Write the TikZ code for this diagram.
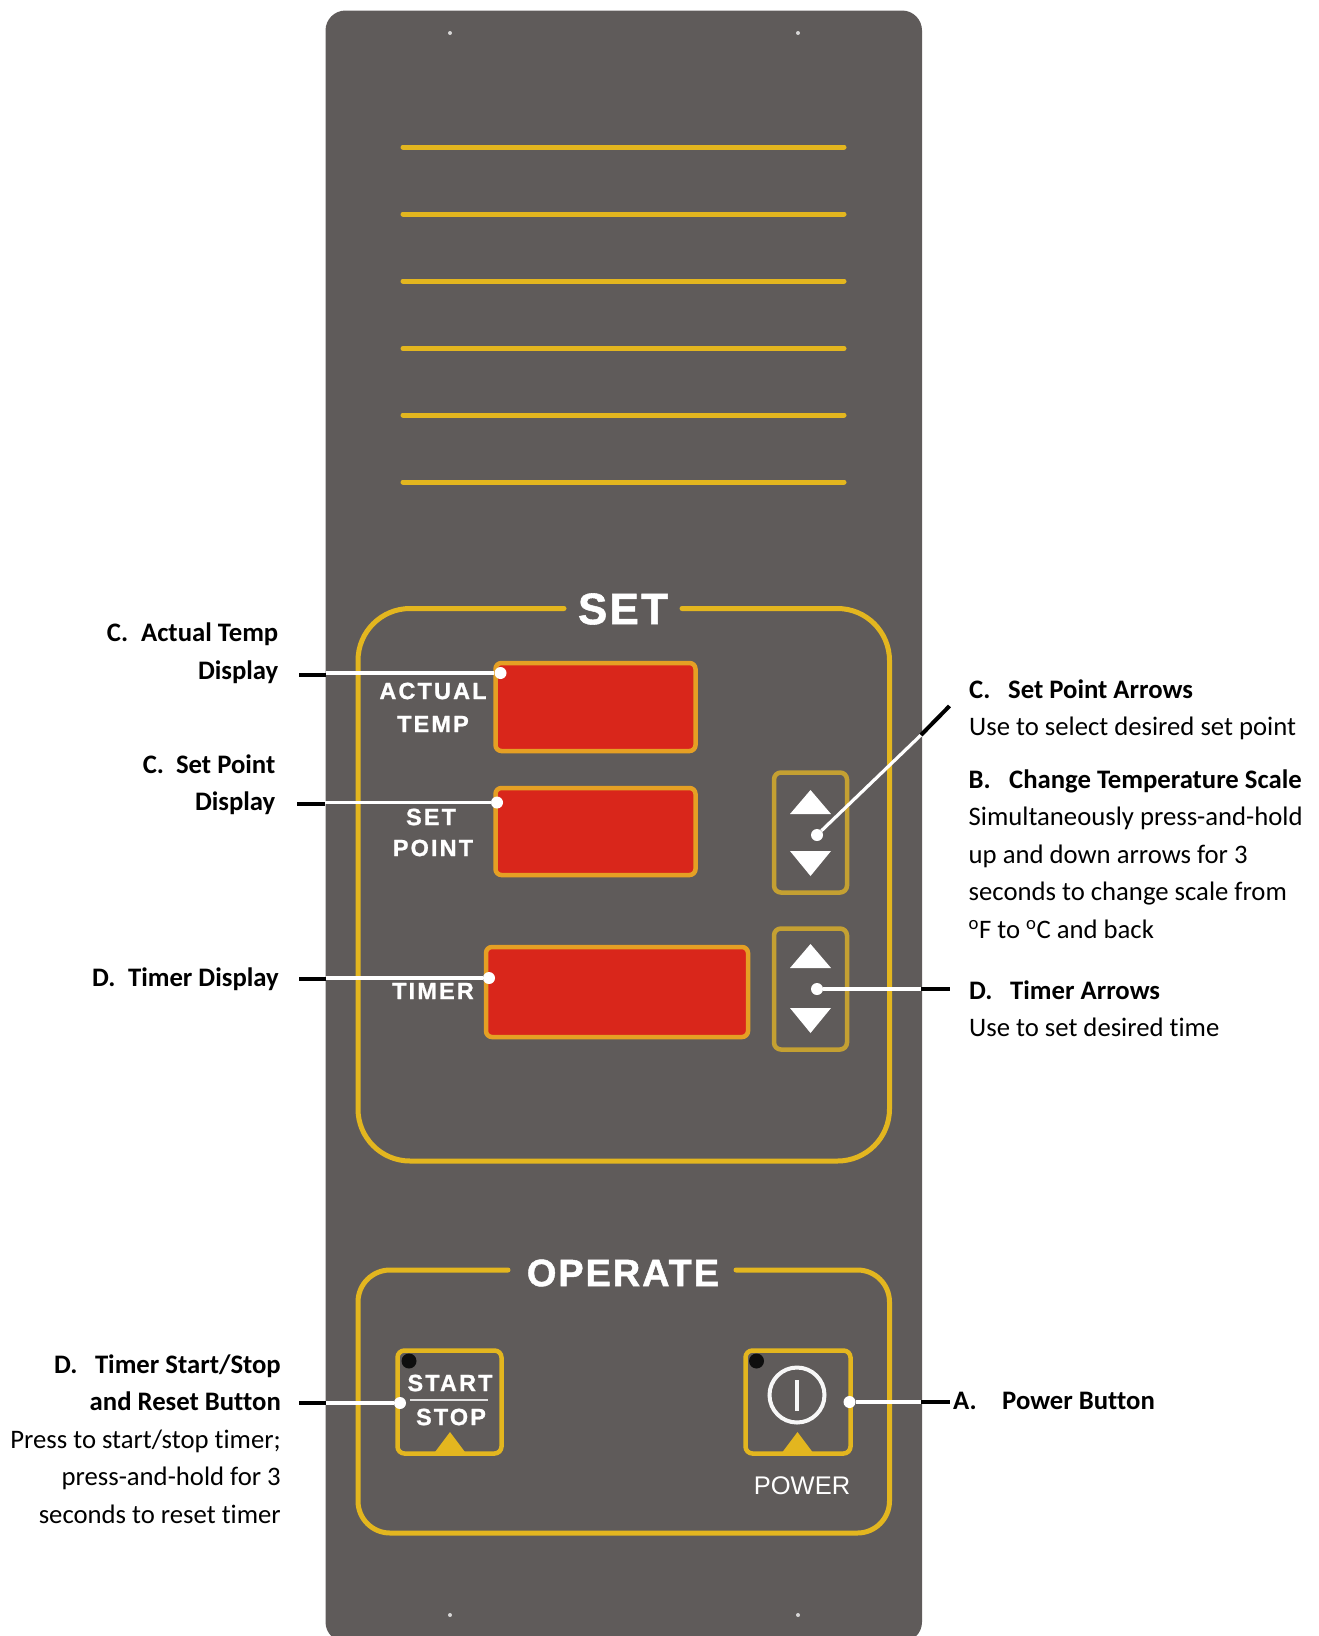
\documentclass[tikz,border=0pt]{standalone}
\usepackage{fontspec}
\setmainfont[Ligatures=NoCommon]{Carlito}
\newfontfamily\platefont[LetterSpace=9,BoldFeatures={FakeBold=0.9}]{Liberation Sans}
\newfontfamily\plainfont[BoldFeatures={FakeBold=1.2,LetterSpace=5}]{Liberation Sans}
\definecolor{plate}{HTML}{5F5B5A}
\definecolor{trim}{HTML}{E3B61F}
\definecolor{trimdark}{HTML}{C4A032}
\definecolor{lcd}{HTML}{D9261B}
\definecolor{lcdedge}{HTML}{E5A024}
\newcommand{\itemlab}[2]{\makebox[#1pt][l]{#2}}
\tikzset{
  frameline/.style={trim,line width=5pt,line cap=round},
  lcdbox/.style={draw=lcdedge,fill=lcd,line width=4.5pt,rounded corners=6pt,inner sep=0pt},
  keybox/.style={draw=trimdark,line width=4.5pt,rounded corners=7pt,inner sep=0pt},
  platetext/.style={white,font=\platefont\fontsize{23.5}{25}\selectfont\bfseries,inner sep=0pt},
  headtext/.style={white,font=\plainfont\bfseries,inner sep=0pt},
  dotnode/.style={circle,fill=white,minimum size=12pt,inner sep=0pt},
  leadwhite/.style={white,line width=3.2pt},
  leadblack/.style={black,line width=4pt},
  noteleft/.style={font=\fontsize{26.7}{37.4}\selectfont,align=right,anchor=north east,inner sep=0pt},
  noteright/.style={font=\fontsize{26.7}{37.4}\selectfont,align=left,anchor=north west,inner sep=0pt},
}
\begin{document}
\begin{tikzpicture}[x=1pt,y=-1pt]
\useasboundingbox (0,0) rectangle (1319,1636);
\clip (0,0) rectangle (1319,1636);
\fill[plate,rounded corners=20pt] (325.5,10.5) rectangle (922,1642);
% screws
\foreach \sx in {450,798}
  \foreach \sy in {33,1615}
    \fill[white!75!plate] (\sx,\sy) circle (2pt);
% vent lines
\foreach \vy in {147,214,281,348.5,415,482}
  \draw[trim,line width=5pt,line cap=round] (403,\vy)--(844,\vy);
% set frame
\draw[frameline,rounded corners=52pt] (564,608.5)--(358,608.5)--(358,1161)--(889.5,1161)--(889.5,608.5)--(682,608.5);
\node[headtext,font=\plainfont\bfseries\fontsize{44}{48}\selectfont] (sethead) at (623,609) {SET};
% displays
\node[lcdbox,minimum width=200pt,minimum height=88pt] (actdisp) at (595.5,707) {};
\node[lcdbox,minimum width=200pt,minimum height=87pt] (setdisp) at (595.5,831.5) {};
\node[lcdbox,minimum width=262pt,minimum height=90pt] (timedisp) at (617,992) {};
\node[platetext] (actlab) at (433,691) {ACTUAL};
\node[platetext] (templab) at (433,724) {TEMP};
\node[platetext] (setlab) at (431,817) {SET};
\node[platetext] (pointlab) at (433,848) {POINT};
\node[platetext] (timelab) at (433,991) {TIMER};
% arrow keys
\node[keybox,minimum width=73pt,minimum height=120pt] (setkeys) at (810.5,832.5) {};
\node[keybox,minimum width=73pt,minimum height=121pt] (timekeys) at (810.5,989) {};
\foreach \ty in {814,968}
  \fill[white] (790,\ty)--(831,\ty)--(810.5,\ty-24)--cycle;
\foreach \ty in {851,1008}
  \fill[white] (790,\ty)--(831,\ty)--(810.5,\ty+25)--cycle;
% operate frame
\draw[frameline,rounded corners=32pt] (508,1270)--(358,1270)--(358,1533)--(889.5,1533)--(889.5,1270)--(736,1270);
\node[headtext,font=\plainfont\bfseries\fontsize{38}{42}\selectfont] (ophead) at (623,1273) {OPERATE};
\node[keybox,draw=trim,minimum width=104pt,minimum height=103pt] (startkey) at (449.5,1402) {};
\node[keybox,draw=trim,minimum width=105pt,minimum height=103pt] (powerkey) at (798,1402) {};
\foreach \kx in {450,797.5}
  \fill[trim] (\kx-16.5,1454)--(\kx+16.5,1454)--(\kx,1432)--cycle;
\fill[black!85!plate] (409,1361) circle (7.5pt);
\fill[black!85!plate] (756.5,1361) circle (7.5pt);
\node[platetext] (startlab) at (450,1383) {START};
\draw[white!80!plate,line width=2pt] (410,1399.5)--(488,1399.5);
\node[platetext] (stoplab) at (451,1417) {STOP};
\draw[white!95!plate,line width=4pt] (797,1395) circle (27.5pt);
\draw[white!95!plate,line width=4pt] (797,1380)--(797,1411);
\node[white,font=\plainfont\fontsize{25.5}{27}\selectfont,inner sep=0pt] (powerlab) at (802,1486) {POWER};
% callouts
\node[noteleft] (actnote) at (278.5,623) {\textbf{C.\hspace{13pt}Actual Temp}\\\textbf{Display}};
\node[noteleft] (setnote) at (275.5,754.5) {\textbf{C.\hspace{12pt}Set Point}\\\textbf{Display}};
\node[noteleft] (timenote) at (279,967.5) {\textbf{D.\hspace{12.5pt}Timer Display}};
\node[noteleft] (startnote) at (281,1354.5) {\textbf{\itemlab{41}{D.}Timer Start/Stop}\\\textbf{and Reset Button}\\Press to start/stop timer;\\press-and-hold for 3\\seconds to reset timer};
\node[noteright] (arrownote) at (969,679.5) {\textbf{\itemlab{39}{C.}Set Point Arrows}\\Use to select desired set point};
\node[noteright] (scalenote) at (968.5,769.5) {\textbf{\itemlab{40.5}{B.}Change Temperature Scale}\\Simultaneously press-and-hold\\up and down arrows for 3\\seconds to change scale from\\\textsuperscript{o}F to \textsuperscript{o}C and back};
\node[noteright] (timearrnote) at (969,980.5) {\textbf{\itemlab{41}{D.}Timer Arrows}\\Use to set desired time};
\node[noteright] (powernote) at (953,1391.5) {\textbf{\itemlab{49}{A.}Power Button}};
% leaders
\node[dotnode] (actdot) at (500.5,673) {};
\node[dotnode] (setdot) at (497,802.5) {};
\node[dotnode] (timedot) at (489,978) {};
\node[dotnode] (arrowdot) at (817,835) {};
\node[dotnode] (timearrdot) at (817,989) {};
\node[dotnode] (startdot) at (400,1403) {};
\node[dotnode] (powerdot) at (849.5,1402) {};
\coordinate (actbend) at (326,675);
\coordinate (actend) at (299,675);
\coordinate (setbend) at (325,804);
\coordinate (setend) at (297,804);
\coordinate (timebend) at (326,979);
\coordinate (timeend) at (299,979);
\coordinate (arrowbend) at (921,735);
\coordinate (arrowend) at (949.5,706);
\coordinate (timearrbend) at (921,989);
\coordinate (timearrend) at (949.5,989);
\coordinate (startbend) at (326,1403);
\coordinate (startend) at (299,1403);
\coordinate (powerbend) at (921,1402);
\coordinate (powerend) at (949.5,1402);
\draw[leadwhite] (actdot)--(actdot-|actbend);
\draw[leadblack] (actbend)--(actend);
\draw[leadwhite] (setdot)--(setdot-|setbend);
\draw[leadblack] (setbend)--(setend);
\draw[leadwhite] (timedot)--(timedot-|timebend);
\draw[leadblack] (timebend)--(timeend);
\draw[leadwhite] (arrowdot)--(arrowbend);
\draw[leadblack] (arrowbend)--(arrowend);
\draw[leadwhite] (timearrdot)--(timearrbend);
\draw[leadblack] (timearrbend)--(timearrend);
\draw[leadwhite] (startdot)--(startbend);
\draw[leadblack] (startbend)--(startend);
\draw[leadwhite] (powerdot)--(powerbend);
\draw[leadblack] (powerbend)--(powerend);
\end{tikzpicture}
\end{document}
